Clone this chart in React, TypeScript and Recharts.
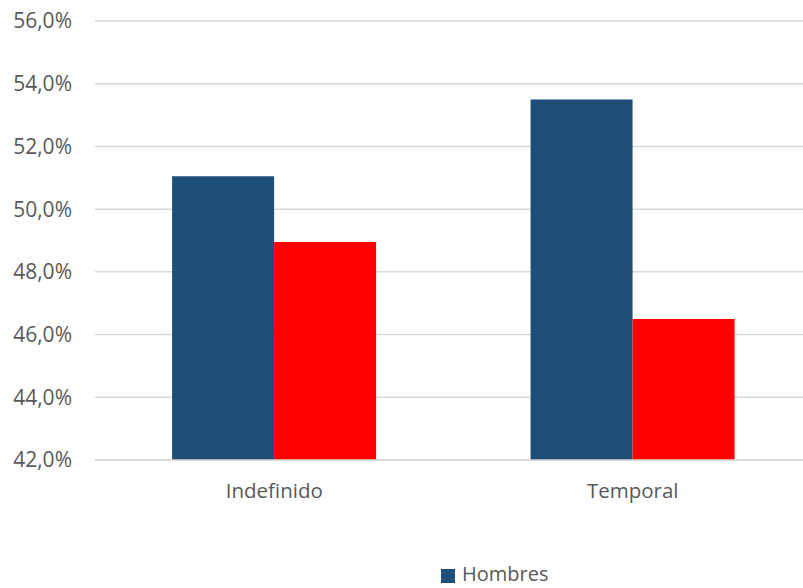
import { BarChart, Bar, XAxis, YAxis, CartesianGrid } from 'recharts'

// Contract type split by sex
const categories = ['Indefinido', 'Temporal']
const hombres = [51.05, 53.5]
const mujeres = [48.95, 46.5]
const yTicks = [42, 44, 46, 48, 50, 52, 54, 56]

const data = categories.map((name, i) => ({ name, hombres: hombres[i], mujeres: mujeres[i] }))

const FONT = '"Open Sans", sans-serif'
const TEXT = '#595959'

const fmt = (v: number) => `${v.toFixed(1).replace('.', ',')}%`

export default function App() {
  return (
    <div style={{ position: 'absolute', left: 0, top: 0, width: 803, height: 588, overflow: 'hidden', background: '#fff' }}>
      <BarChart
        width={812}
        height={588}
        data={data}
        margin={{ top: 21, right: 0, bottom: 0, left: 0 }}
        barCategoryGap="21.5%"
        barGap={0}
      >
        <CartesianGrid vertical={false} stroke="#d9d9d9" strokeWidth={1.5} />
        <XAxis
          dataKey="name"
          height={128}
          tickSize={0}
          tickMargin={23}
          axisLine={{ stroke: '#d9d9d9', strokeWidth: 1.5 }}
          tick={{ fill: TEXT, fontSize: 20.5, fontFamily: FONT }}
        />
        <YAxis
          width={95}
          domain={[42, 56]}
          ticks={yTicks}
          allowDataOverflow
          axisLine={false}
          tickSize={0}
          tickMargin={23}
          tickFormatter={fmt}
          tick={{ fill: TEXT, fontSize: 21, fontFamily: FONT }}
        />
        <Bar dataKey="hombres" name="Hombres" fill="#1F4E79" isAnimationActive={false} />
        <Bar dataKey="mujeres" name="Mujeres" fill="#FF0000" isAnimationActive={false} />
      </BarChart>
      <div style={{ position: 'absolute', left: 441, top: 569, width: 14, height: 14, background: '#1F4E79' }} />
      <div style={{ position: 'absolute', left: 462, top: 562, fontFamily: FONT, fontSize: 20, color: TEXT, lineHeight: '24px', whiteSpace: 'nowrap' }}>
        Hombres
      </div>
    </div>
  )
}
